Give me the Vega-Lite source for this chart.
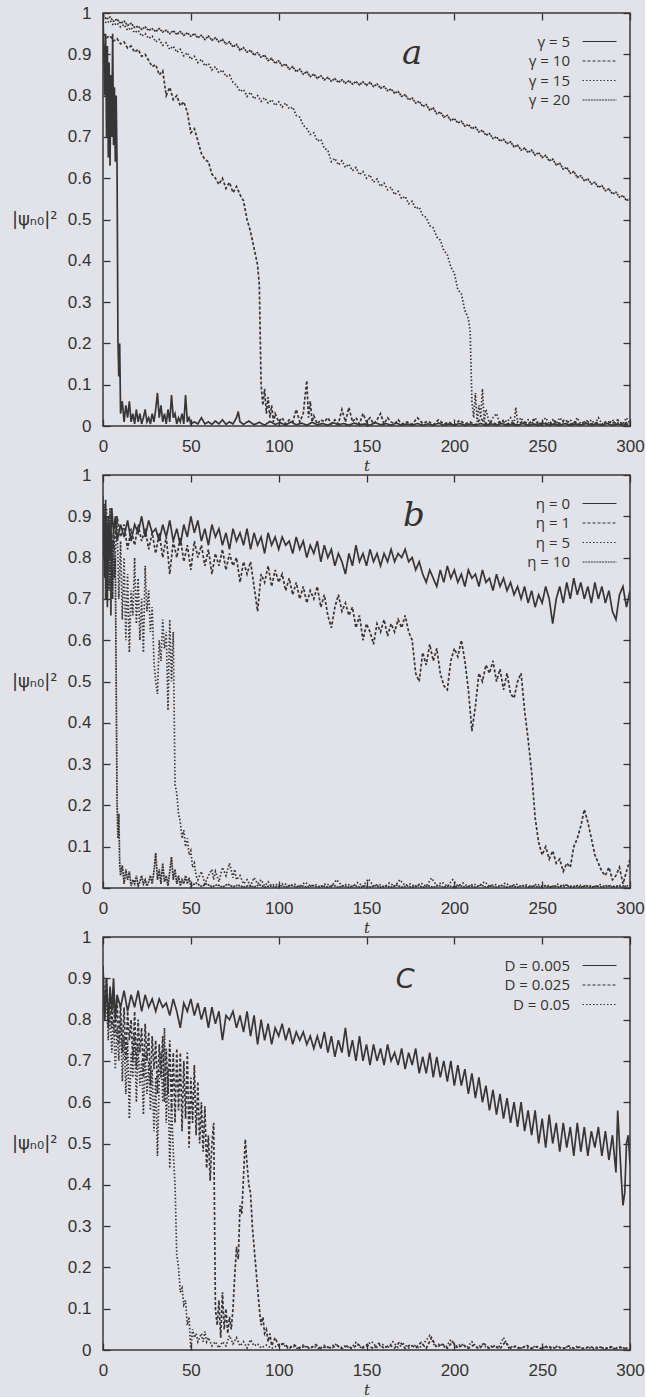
{
"$schema":"https://vega.github.io/schema/vega-lite/v6.json",
"background":"#e2e3e9",
"padding":{"left":10,"top":3,"right":0,"bottom":0},
"spacing":49,
"bounds":"flush",
"resolve":{"scale":{"strokeDash":"independent"},"legend":{"strokeDash":"independent"}},
"config":{"view":{"stroke":"#383838","strokeWidth":1.5},"font":"Liberation Sans"},
"datasets":{
"a":[
{"s":"γ = 20","t":0,"v":0.995},{"s":"γ = 20","t":2,"v":0.985},{"s":"γ = 20","t":4,"v":0.99},{"s":"γ = 20","t":6,"v":0.98},{"s":"γ = 20","t":8,"v":0.985},{"s":"γ = 20","t":10,"v":0.975},{"s":"γ = 20","t":12,"v":0.98},{"s":"γ = 20","t":14,"v":0.97},{"s":"γ = 20","t":16,"v":0.975},{"s":"γ = 20","t":18,"v":0.965},{"s":"γ = 20","t":20,"v":0.968},{"s":"γ = 20","t":22,"v":0.96},{"s":"γ = 20","t":24,"v":0.966},{"s":"γ = 20","t":26,"v":0.958},{"s":"γ = 20","t":28,"v":0.962},{"s":"γ = 20","t":30,"v":0.955},{"s":"γ = 20","t":32,"v":0.962},{"s":"γ = 20","t":34,"v":0.954},{"s":"γ = 20","t":36,"v":0.958},{"s":"γ = 20","t":38,"v":0.95},{"s":"γ = 20","t":40,"v":0.957},{"s":"γ = 20","t":42,"v":0.948},{"s":"γ = 20","t":44,"v":0.955},{"s":"γ = 20","t":46,"v":0.946},{"s":"γ = 20","t":48,"v":0.952},{"s":"γ = 20","t":50,"v":0.944},{"s":"γ = 20","t":52,"v":0.95},{"s":"γ = 20","t":54,"v":0.94},{"s":"γ = 20","t":56,"v":0.946},{"s":"γ = 20","t":58,"v":0.936},{"s":"γ = 20","t":60,"v":0.944},{"s":"γ = 20","t":62,"v":0.934},{"s":"γ = 20","t":64,"v":0.94},{"s":"γ = 20","t":66,"v":0.93},{"s":"γ = 20","t":68,"v":0.936},{"s":"γ = 20","t":70,"v":0.925},{"s":"γ = 20","t":72,"v":0.93},{"s":"γ = 20","t":74,"v":0.918},{"s":"γ = 20","t":76,"v":0.924},{"s":"γ = 20","t":78,"v":0.91},{"s":"γ = 20","t":80,"v":0.916},{"s":"γ = 20","t":82,"v":0.905},{"s":"γ = 20","t":84,"v":0.91},{"s":"γ = 20","t":86,"v":0.898},{"s":"γ = 20","t":88,"v":0.904},{"s":"γ = 20","t":90,"v":0.893},{"s":"γ = 20","t":92,"v":0.898},{"s":"γ = 20","t":94,"v":0.885},{"s":"γ = 20","t":96,"v":0.89},{"s":"γ = 20","t":98,"v":0.878},{"s":"γ = 20","t":100,"v":0.884},{"s":"γ = 20","t":102,"v":0.872},{"s":"γ = 20","t":104,"v":0.876},{"s":"γ = 20","t":106,"v":0.864},{"s":"γ = 20","t":108,"v":0.87},{"s":"γ = 20","t":110,"v":0.858},{"s":"γ = 20","t":112,"v":0.864},{"s":"γ = 20","t":114,"v":0.852},{"s":"γ = 20","t":116,"v":0.858},{"s":"γ = 20","t":118,"v":0.846},{"s":"γ = 20","t":120,"v":0.852},{"s":"γ = 20","t":122,"v":0.842},{"s":"γ = 20","t":124,"v":0.848},{"s":"γ = 20","t":126,"v":0.838},{"s":"γ = 20","t":128,"v":0.844},{"s":"γ = 20","t":130,"v":0.835},{"s":"γ = 20","t":132,"v":0.841},{"s":"γ = 20","t":134,"v":0.832},{"s":"γ = 20","t":136,"v":0.838},{"s":"γ = 20","t":138,"v":0.83},{"s":"γ = 20","t":140,"v":0.836},{"s":"γ = 20","t":142,"v":0.828},{"s":"γ = 20","t":144,"v":0.834},{"s":"γ = 20","t":146,"v":0.826},{"s":"γ = 20","t":148,"v":0.833},{"s":"γ = 20","t":150,"v":0.825},{"s":"γ = 20","t":152,"v":0.832},{"s":"γ = 20","t":154,"v":0.822},{"s":"γ = 20","t":156,"v":0.828},{"s":"γ = 20","t":158,"v":0.818},{"s":"γ = 20","t":160,"v":0.822},{"s":"γ = 20","t":162,"v":0.812},{"s":"γ = 20","t":164,"v":0.816},{"s":"γ = 20","t":166,"v":0.806},{"s":"γ = 20","t":168,"v":0.81},{"s":"γ = 20","t":170,"v":0.798},{"s":"γ = 20","t":172,"v":0.802},{"s":"γ = 20","t":174,"v":0.79},{"s":"γ = 20","t":176,"v":0.794},{"s":"γ = 20","t":178,"v":0.782},{"s":"γ = 20","t":180,"v":0.786},{"s":"γ = 20","t":182,"v":0.774},{"s":"γ = 20","t":184,"v":0.778},{"s":"γ = 20","t":186,"v":0.765},{"s":"γ = 20","t":188,"v":0.77},{"s":"γ = 20","t":190,"v":0.756},{"s":"γ = 20","t":192,"v":0.76},{"s":"γ = 20","t":194,"v":0.748},{"s":"γ = 20","t":196,"v":0.752},{"s":"γ = 20","t":198,"v":0.74},{"s":"γ = 20","t":200,"v":0.744},{"s":"γ = 20","t":202,"v":0.734},{"s":"γ = 20","t":204,"v":0.738},{"s":"γ = 20","t":206,"v":0.726},{"s":"γ = 20","t":208,"v":0.73},{"s":"γ = 20","t":210,"v":0.72},{"s":"γ = 20","t":212,"v":0.724},{"s":"γ = 20","t":214,"v":0.712},{"s":"γ = 20","t":216,"v":0.716},{"s":"γ = 20","t":218,"v":0.704},{"s":"γ = 20","t":220,"v":0.708},{"s":"γ = 20","t":222,"v":0.696},{"s":"γ = 20","t":224,"v":0.7},{"s":"γ = 20","t":226,"v":0.69},{"s":"γ = 20","t":228,"v":0.694},{"s":"γ = 20","t":230,"v":0.684},{"s":"γ = 20","t":232,"v":0.688},{"s":"γ = 20","t":234,"v":0.676},{"s":"γ = 20","t":236,"v":0.68},{"s":"γ = 20","t":238,"v":0.668},{"s":"γ = 20","t":240,"v":0.673},{"s":"γ = 20","t":242,"v":0.662},{"s":"γ = 20","t":244,"v":0.668},{"s":"γ = 20","t":246,"v":0.656},{"s":"γ = 20","t":248,"v":0.662},{"s":"γ = 20","t":250,"v":0.65},{"s":"γ = 20","t":252,"v":0.655},{"s":"γ = 20","t":254,"v":0.642},{"s":"γ = 20","t":256,"v":0.646},{"s":"γ = 20","t":258,"v":0.632},{"s":"γ = 20","t":260,"v":0.636},{"s":"γ = 20","t":262,"v":0.622},{"s":"γ = 20","t":264,"v":0.626},{"s":"γ = 20","t":266,"v":0.612},{"s":"γ = 20","t":268,"v":0.616},{"s":"γ = 20","t":270,"v":0.602},{"s":"γ = 20","t":272,"v":0.606},{"s":"γ = 20","t":274,"v":0.594},{"s":"γ = 20","t":276,"v":0.598},{"s":"γ = 20","t":278,"v":0.586},{"s":"γ = 20","t":280,"v":0.59},{"s":"γ = 20","t":282,"v":0.578},{"s":"γ = 20","t":284,"v":0.582},{"s":"γ = 20","t":286,"v":0.57},{"s":"γ = 20","t":288,"v":0.574},{"s":"γ = 20","t":290,"v":0.562},{"s":"γ = 20","t":292,"v":0.566},{"s":"γ = 20","t":294,"v":0.554},{"s":"γ = 20","t":296,"v":0.558},{"s":"γ = 20","t":298,"v":0.546},{"s":"γ = 20","t":300,"v":0.55},
{"s":"γ = 15","t":0,"v":0.985},{"s":"γ = 15","t":2,"v":0.975},{"s":"γ = 15","t":4,"v":0.982},{"s":"γ = 15","t":6,"v":0.97},{"s":"γ = 15","t":8,"v":0.976},{"s":"γ = 15","t":10,"v":0.966},{"s":"γ = 15","t":12,"v":0.972},{"s":"γ = 15","t":14,"v":0.958},{"s":"γ = 15","t":16,"v":0.965},{"s":"γ = 15","t":18,"v":0.952},{"s":"γ = 15","t":20,"v":0.958},{"s":"γ = 15","t":22,"v":0.944},{"s":"γ = 15","t":24,"v":0.95},{"s":"γ = 15","t":26,"v":0.938},{"s":"γ = 15","t":28,"v":0.944},{"s":"γ = 15","t":30,"v":0.93},{"s":"γ = 15","t":32,"v":0.936},{"s":"γ = 15","t":34,"v":0.922},{"s":"γ = 15","t":36,"v":0.928},{"s":"γ = 15","t":38,"v":0.912},{"s":"γ = 15","t":40,"v":0.92},{"s":"γ = 15","t":42,"v":0.905},{"s":"γ = 15","t":44,"v":0.912},{"s":"γ = 15","t":46,"v":0.896},{"s":"γ = 15","t":48,"v":0.904},{"s":"γ = 15","t":50,"v":0.888},{"s":"γ = 15","t":52,"v":0.895},{"s":"γ = 15","t":54,"v":0.88},{"s":"γ = 15","t":56,"v":0.888},{"s":"γ = 15","t":58,"v":0.872},{"s":"γ = 15","t":60,"v":0.878},{"s":"γ = 15","t":62,"v":0.862},{"s":"γ = 15","t":64,"v":0.87},{"s":"γ = 15","t":66,"v":0.855},{"s":"γ = 15","t":68,"v":0.862},{"s":"γ = 15","t":70,"v":0.846},{"s":"γ = 15","t":72,"v":0.85},{"s":"γ = 15","t":74,"v":0.832},{"s":"γ = 15","t":76,"v":0.825},{"s":"γ = 15","t":78,"v":0.81},{"s":"γ = 15","t":80,"v":0.815},{"s":"γ = 15","t":82,"v":0.798},{"s":"γ = 15","t":84,"v":0.808},{"s":"γ = 15","t":86,"v":0.792},{"s":"γ = 15","t":88,"v":0.8},{"s":"γ = 15","t":90,"v":0.786},{"s":"γ = 15","t":92,"v":0.795},{"s":"γ = 15","t":94,"v":0.782},{"s":"γ = 15","t":96,"v":0.79},{"s":"γ = 15","t":98,"v":0.776},{"s":"γ = 15","t":100,"v":0.785},{"s":"γ = 15","t":102,"v":0.772},{"s":"γ = 15","t":104,"v":0.782},{"s":"γ = 15","t":106,"v":0.768},{"s":"γ = 15","t":108,"v":0.772},{"s":"γ = 15","t":110,"v":0.752},{"s":"γ = 15","t":112,"v":0.748},{"s":"γ = 15","t":114,"v":0.728},{"s":"γ = 15","t":116,"v":0.72},{"s":"γ = 15","t":118,"v":0.706},{"s":"γ = 15","t":120,"v":0.71},{"s":"γ = 15","t":122,"v":0.69},{"s":"γ = 15","t":124,"v":0.694},{"s":"γ = 15","t":126,"v":0.672},{"s":"γ = 15","t":128,"v":0.668},{"s":"γ = 15","t":130,"v":0.64},{"s":"γ = 15","t":132,"v":0.648},{"s":"γ = 15","t":134,"v":0.632},{"s":"γ = 15","t":136,"v":0.642},{"s":"γ = 15","t":138,"v":0.626},{"s":"γ = 15","t":140,"v":0.634},{"s":"γ = 15","t":142,"v":0.618},{"s":"γ = 15","t":144,"v":0.626},{"s":"γ = 15","t":146,"v":0.608},{"s":"γ = 15","t":148,"v":0.616},{"s":"γ = 15","t":150,"v":0.6},{"s":"γ = 15","t":152,"v":0.608},{"s":"γ = 15","t":154,"v":0.59},{"s":"γ = 15","t":156,"v":0.598},{"s":"γ = 15","t":158,"v":0.58},{"s":"γ = 15","t":160,"v":0.588},{"s":"γ = 15","t":162,"v":0.572},{"s":"γ = 15","t":164,"v":0.578},{"s":"γ = 15","t":166,"v":0.56},{"s":"γ = 15","t":168,"v":0.568},{"s":"γ = 15","t":170,"v":0.55},{"s":"γ = 15","t":172,"v":0.556},{"s":"γ = 15","t":174,"v":0.538},{"s":"γ = 15","t":176,"v":0.544},{"s":"γ = 15","t":178,"v":0.526},{"s":"γ = 15","t":180,"v":0.53},{"s":"γ = 15","t":182,"v":0.51},{"s":"γ = 15","t":184,"v":0.505},{"s":"γ = 15","t":186,"v":0.485},{"s":"γ = 15","t":188,"v":0.48},{"s":"γ = 15","t":190,"v":0.458},{"s":"γ = 15","t":192,"v":0.45},{"s":"γ = 15","t":194,"v":0.425},{"s":"γ = 15","t":196,"v":0.415},{"s":"γ = 15","t":198,"v":0.385},{"s":"γ = 15","t":200,"v":0.37},{"s":"γ = 15","t":202,"v":0.33},{"s":"γ = 15","t":204,"v":0.32},{"s":"γ = 15","t":206,"v":0.28},{"s":"γ = 15","t":208,"v":0.26},{"s":"γ = 15","t":209,"v":0.23},{"s":"γ = 15","t":210,"v":0.06},{"s":"γ = 15","t":211,"v":0.02},{"s":"γ = 15","t":212,"v":0.08},{"s":"γ = 15","t":213,"v":0.01},{"s":"γ = 15","t":214,"v":0.05},{"s":"γ = 15","t":215,"v":0.02},{"s":"γ = 15","t":216,"v":0.09},{"s":"γ = 15","t":217,"v":0.01},{"s":"γ = 15","t":218,"v":0.04},{"s":"γ = 15","t":220,"v":0.005},{"s":"γ = 15","t":222,"v":0.02},{"s":"γ = 15","t":224,"v":0.03},{"s":"γ = 15","t":226,"v":0.005},{"s":"γ = 15","t":228,"v":0.015},{"s":"γ = 15","t":230,"v":0.01},{"s":"γ = 15","t":232,"v":0.02},{"s":"γ = 15","t":234,"v":0.005},{"s":"γ = 15","t":235,"v":0.045},{"s":"γ = 15","t":236,"v":0.01},{"s":"γ = 15","t":238,"v":0.02},{"s":"γ = 15","t":240,"v":0.005},{"s":"γ = 15","t":242,"v":0.015},{"s":"γ = 15","t":244,"v":0.005},{"s":"γ = 15","t":246,"v":0.02},{"s":"γ = 15","t":248,"v":0.005},{"s":"γ = 15","t":250,"v":0.01},{"s":"γ = 15","t":252,"v":0.02},{"s":"γ = 15","t":254,"v":0.005},{"s":"γ = 15","t":256,"v":0.015},{"s":"γ = 15","t":258,"v":0.005},{"s":"γ = 15","t":260,"v":0.02},{"s":"γ = 15","t":262,"v":0.01},{"s":"γ = 15","t":264,"v":0.005},{"s":"γ = 15","t":266,"v":0.015},{"s":"γ = 15","t":268,"v":0.005},{"s":"γ = 15","t":270,"v":0.02},{"s":"γ = 15","t":272,"v":0.005},{"s":"γ = 15","t":274,"v":0.01},{"s":"γ = 15","t":276,"v":0.005},{"s":"γ = 15","t":278,"v":0.015},{"s":"γ = 15","t":280,"v":0.005},{"s":"γ = 15","t":282,"v":0.02},{"s":"γ = 15","t":284,"v":0.005},{"s":"γ = 15","t":286,"v":0.01},{"s":"γ = 15","t":288,"v":0.005},{"s":"γ = 15","t":290,"v":0.015},{"s":"γ = 15","t":292,"v":0.005},{"s":"γ = 15","t":294,"v":0.01},{"s":"γ = 15","t":296,"v":0.005},{"s":"γ = 15","t":298,"v":0.02},{"s":"γ = 15","t":300,"v":0.005},
{"s":"γ = 10","t":0,"v":0.95},{"s":"γ = 10","t":2,"v":0.94},{"s":"γ = 10","t":4,"v":0.945},{"s":"γ = 10","t":6,"v":0.932},{"s":"γ = 10","t":8,"v":0.938},{"s":"γ = 10","t":10,"v":0.925},{"s":"γ = 10","t":12,"v":0.93},{"s":"γ = 10","t":14,"v":0.915},{"s":"γ = 10","t":16,"v":0.92},{"s":"γ = 10","t":18,"v":0.905},{"s":"γ = 10","t":20,"v":0.912},{"s":"γ = 10","t":22,"v":0.895},{"s":"γ = 10","t":24,"v":0.9},{"s":"γ = 10","t":26,"v":0.885},{"s":"γ = 10","t":28,"v":0.87},{"s":"γ = 10","t":30,"v":0.875},{"s":"γ = 10","t":32,"v":0.85},{"s":"γ = 10","t":34,"v":0.86},{"s":"γ = 10","t":36,"v":0.8},{"s":"γ = 10","t":38,"v":0.82},{"s":"γ = 10","t":40,"v":0.79},{"s":"γ = 10","t":42,"v":0.8},{"s":"γ = 10","t":44,"v":0.775},{"s":"γ = 10","t":46,"v":0.785},{"s":"γ = 10","t":48,"v":0.76},{"s":"γ = 10","t":50,"v":0.71},{"s":"γ = 10","t":52,"v":0.72},{"s":"γ = 10","t":54,"v":0.69},{"s":"γ = 10","t":56,"v":0.66},{"s":"γ = 10","t":58,"v":0.645},{"s":"γ = 10","t":60,"v":0.64},{"s":"γ = 10","t":62,"v":0.61},{"s":"γ = 10","t":64,"v":0.6},{"s":"γ = 10","t":66,"v":0.585},{"s":"γ = 10","t":68,"v":0.6},{"s":"γ = 10","t":70,"v":0.575},{"s":"γ = 10","t":72,"v":0.59},{"s":"γ = 10","t":74,"v":0.565},{"s":"γ = 10","t":76,"v":0.58},{"s":"γ = 10","t":78,"v":0.56},{"s":"γ = 10","t":80,"v":0.545},{"s":"γ = 10","t":82,"v":0.5},{"s":"γ = 10","t":84,"v":0.47},{"s":"γ = 10","t":86,"v":0.43},{"s":"γ = 10","t":88,"v":0.39},{"s":"γ = 10","t":89,"v":0.34},{"s":"γ = 10","t":90,"v":0.1},{"s":"γ = 10","t":91,"v":0.05},{"s":"γ = 10","t":92,"v":0.09},{"s":"γ = 10","t":93,"v":0.03},{"s":"γ = 10","t":94,"v":0.07},{"s":"γ = 10","t":95,"v":0.02},{"s":"γ = 10","t":96,"v":0.05},{"s":"γ = 10","t":97,"v":0.01},{"s":"γ = 10","t":98,"v":0.03},{"s":"γ = 10","t":100,"v":0.01},{"s":"γ = 10","t":102,"v":0.02},{"s":"γ = 10","t":104,"v":0.005},{"s":"γ = 10","t":106,"v":0.015},{"s":"γ = 10","t":108,"v":0.01},{"s":"γ = 10","t":110,"v":0.04},{"s":"γ = 10","t":112,"v":0.01},{"s":"γ = 10","t":114,"v":0.03},{"s":"γ = 10","t":116,"v":0.11},{"s":"γ = 10","t":117,"v":0.02},{"s":"γ = 10","t":118,"v":0.06},{"s":"γ = 10","t":119,"v":0.01},{"s":"γ = 10","t":120,"v":0.025},{"s":"γ = 10","t":122,"v":0.005},{"s":"γ = 10","t":124,"v":0.015},{"s":"γ = 10","t":126,"v":0.01},{"s":"γ = 10","t":128,"v":0.02},{"s":"γ = 10","t":130,"v":0.005},{"s":"γ = 10","t":132,"v":0.015},{"s":"γ = 10","t":134,"v":0.005},{"s":"γ = 10","t":136,"v":0.04},{"s":"γ = 10","t":138,"v":0.01},{"s":"γ = 10","t":140,"v":0.045},{"s":"γ = 10","t":142,"v":0.01},{"s":"γ = 10","t":144,"v":0.02},{"s":"γ = 10","t":146,"v":0.005},{"s":"γ = 10","t":148,"v":0.03},{"s":"γ = 10","t":150,"v":0.01},{"s":"γ = 10","t":152,"v":0.02},{"s":"γ = 10","t":154,"v":0.005},{"s":"γ = 10","t":156,"v":0.015},{"s":"γ = 10","t":158,"v":0.03},{"s":"γ = 10","t":160,"v":0.005},{"s":"γ = 10","t":162,"v":0.02},{"s":"γ = 10","t":164,"v":0.01},{"s":"γ = 10","t":166,"v":0.005},{"s":"γ = 10","t":168,"v":0.015},{"s":"γ = 10","t":170,"v":0.005},{"s":"γ = 10","t":173,"v":0.01},{"s":"γ = 10","t":176,"v":0.004},{"s":"γ = 10","t":179,"v":0.02},{"s":"γ = 10","t":182,"v":0.006},{"s":"γ = 10","t":185,"v":0.012},{"s":"γ = 10","t":188,"v":0.003},{"s":"γ = 10","t":191,"v":0.015},{"s":"γ = 10","t":194,"v":0.005},{"s":"γ = 10","t":197,"v":0.009},{"s":"γ = 10","t":200,"v":0.002},{"s":"γ = 10","t":203,"v":0.014},{"s":"γ = 10","t":206,"v":0.005},{"s":"γ = 10","t":209,"v":0.01},{"s":"γ = 10","t":212,"v":0.003},{"s":"γ = 10","t":215,"v":0.018},{"s":"γ = 10","t":218,"v":0.006},{"s":"γ = 10","t":221,"v":0.01},{"s":"γ = 10","t":224,"v":0.004},{"s":"γ = 10","t":227,"v":0.013},{"s":"γ = 10","t":230,"v":0.005},{"s":"γ = 10","t":233,"v":0.008},{"s":"γ = 10","t":236,"v":0.002},{"s":"γ = 10","t":239,"v":0.012},{"s":"γ = 10","t":242,"v":0.005},{"s":"γ = 10","t":245,"v":0.015},{"s":"γ = 10","t":248,"v":0.004},{"s":"γ = 10","t":251,"v":0.009},{"s":"γ = 10","t":254,"v":0.003},{"s":"γ = 10","t":257,"v":0.012},{"s":"γ = 10","t":260,"v":0.006},{"s":"γ = 10","t":263,"v":0.016},{"s":"γ = 10","t":266,"v":0.004},{"s":"γ = 10","t":269,"v":0.01},{"s":"γ = 10","t":272,"v":0.003},{"s":"γ = 10","t":275,"v":0.014},{"s":"γ = 10","t":278,"v":0.005},{"s":"γ = 10","t":281,"v":0.008},{"s":"γ = 10","t":284,"v":0.002},{"s":"γ = 10","t":287,"v":0.012},{"s":"γ = 10","t":290,"v":0.006},{"s":"γ = 10","t":293,"v":0.015},{"s":"γ = 10","t":296,"v":0.004},{"s":"γ = 10","t":299,"v":0.01},
{"s":"γ = 5","t":0,"v":1},{"s":"γ = 5","t":0.5,"v":0.9},{"s":"γ = 5","t":1,"v":0.8},{"s":"γ = 5","t":1.5,"v":0.95},{"s":"γ = 5","t":2,"v":0.7},{"s":"γ = 5","t":2.5,"v":0.92},{"s":"γ = 5","t":3,"v":0.65},{"s":"γ = 5","t":3.5,"v":0.88},{"s":"γ = 5","t":4,"v":0.63},{"s":"γ = 5","t":4.5,"v":0.85},{"s":"γ = 5","t":5,"v":0.7},{"s":"γ = 5","t":5.5,"v":0.95},{"s":"γ = 5","t":6,"v":0.68},{"s":"γ = 5","t":6.5,"v":0.82},{"s":"γ = 5","t":7,"v":0.64},{"s":"γ = 5","t":7.5,"v":0.8},{"s":"γ = 5","t":8,"v":0.63},{"s":"γ = 5","t":8.5,"v":0.21},{"s":"γ = 5","t":9,"v":0.12},{"s":"γ = 5","t":9.5,"v":0.2},{"s":"γ = 5","t":10,"v":0.03},{"s":"γ = 5","t":11,"v":0.06},{"s":"γ = 5","t":12,"v":0.01},{"s":"γ = 5","t":13,"v":0.05},{"s":"γ = 5","t":14,"v":0.02},{"s":"γ = 5","t":15,"v":0.06},{"s":"γ = 5","t":16,"v":0.01},{"s":"γ = 5","t":17,"v":0.03},{"s":"γ = 5","t":18,"v":0.005},{"s":"γ = 5","t":19,"v":0.04},{"s":"γ = 5","t":20,"v":0.01},{"s":"γ = 5","t":21,"v":0.03},{"s":"γ = 5","t":22,"v":0.005},{"s":"γ = 5","t":23,"v":0.02},{"s":"γ = 5","t":24,"v":0.04},{"s":"γ = 5","t":25,"v":0.01},{"s":"γ = 5","t":26,"v":0.02},{"s":"γ = 5","t":27,"v":0.005},{"s":"γ = 5","t":28,"v":0.03},{"s":"γ = 5","t":29,"v":0.01},{"s":"γ = 5","t":30,"v":0.04},{"s":"γ = 5","t":31,"v":0.08},{"s":"γ = 5","t":32,"v":0.02},{"s":"γ = 5","t":33,"v":0.05},{"s":"γ = 5","t":34,"v":0.01},{"s":"γ = 5","t":35,"v":0.03},{"s":"γ = 5","t":36,"v":0.005},{"s":"γ = 5","t":37,"v":0.04},{"s":"γ = 5","t":38,"v":0.01},{"s":"γ = 5","t":39,"v":0.075},{"s":"γ = 5","t":40,"v":0.02},{"s":"γ = 5","t":41,"v":0.03},{"s":"γ = 5","t":42,"v":0.005},{"s":"γ = 5","t":43,"v":0.02},{"s":"γ = 5","t":44,"v":0.01},{"s":"γ = 5","t":45,"v":0.03},{"s":"γ = 5","t":46,"v":0.005},{"s":"γ = 5","t":47,"v":0.075},{"s":"γ = 5","t":48,"v":0.01},{"s":"γ = 5","t":49,"v":0.02},{"s":"γ = 5","t":50,"v":0.005},{"s":"γ = 5","t":52,"v":0.01},{"s":"γ = 5","t":54,"v":0.005},{"s":"γ = 5","t":56,"v":0.02},{"s":"γ = 5","t":58,"v":0.005},{"s":"γ = 5","t":60,"v":0.01},{"s":"γ = 5","t":62,"v":0.004},{"s":"γ = 5","t":64,"v":0.012},{"s":"γ = 5","t":66,"v":0.005},{"s":"γ = 5","t":68,"v":0.015},{"s":"γ = 5","t":70,"v":0.004},{"s":"γ = 5","t":72,"v":0.01},{"s":"γ = 5","t":74,"v":0.005},{"s":"γ = 5","t":76,"v":0.02},{"s":"γ = 5","t":77,"v":0.035},{"s":"γ = 5","t":78,"v":0.01},{"s":"γ = 5","t":80,"v":0.004},{"s":"γ = 5","t":83,"v":0.012},{"s":"γ = 5","t":86,"v":0.003},{"s":"γ = 5","t":89,"v":0.009},{"s":"γ = 5","t":92,"v":0.002},{"s":"γ = 5","t":95,"v":0.011},{"s":"γ = 5","t":98,"v":0.004},{"s":"γ = 5","t":101,"v":0.008},{"s":"γ = 5","t":104,"v":0.002},{"s":"γ = 5","t":107,"v":0.01},{"s":"γ = 5","t":110,"v":0.003},{"s":"γ = 5","t":113,"v":0.007},{"s":"γ = 5","t":116,"v":0.002},{"s":"γ = 5","t":119,"v":0.009},{"s":"γ = 5","t":122,"v":0.003},{"s":"γ = 5","t":125,"v":0.006},{"s":"γ = 5","t":128,"v":0.002},{"s":"γ = 5","t":131,"v":0.008},{"s":"γ = 5","t":134,"v":0.003},{"s":"γ = 5","t":137,"v":0.006},{"s":"γ = 5","t":140,"v":0.002},{"s":"γ = 5","t":143,"v":0.007},{"s":"γ = 5","t":146,"v":0.003},{"s":"γ = 5","t":149,"v":0.005},{"s":"γ = 5","t":152,"v":0.002},{"s":"γ = 5","t":155,"v":0.008},{"s":"γ = 5","t":158,"v":0.003},{"s":"γ = 5","t":161,"v":0.006},{"s":"γ = 5","t":164,"v":0.002},{"s":"γ = 5","t":167,"v":0.007},{"s":"γ = 5","t":170,"v":0.002},{"s":"γ = 5","t":173,"v":0.005},{"s":"γ = 5","t":176,"v":0.002},{"s":"γ = 5","t":179,"v":0.006},{"s":"γ = 5","t":182,"v":0.002},{"s":"γ = 5","t":185,"v":0.005},{"s":"γ = 5","t":188,"v":0.002},{"s":"γ = 5","t":191,"v":0.007},{"s":"γ = 5","t":194,"v":0.002},{"s":"γ = 5","t":197,"v":0.005},{"s":"γ = 5","t":200,"v":0.002},{"s":"γ = 5","t":203,"v":0.006},{"s":"γ = 5","t":206,"v":0.002},{"s":"γ = 5","t":209,"v":0.005},{"s":"γ = 5","t":212,"v":0.002},{"s":"γ = 5","t":215,"v":0.006},{"s":"γ = 5","t":218,"v":0.002},{"s":"γ = 5","t":221,"v":0.005},{"s":"γ = 5","t":224,"v":0.002},{"s":"γ = 5","t":227,"v":0.006},{"s":"γ = 5","t":230,"v":0.002},{"s":"γ = 5","t":233,"v":0.005},{"s":"γ = 5","t":236,"v":0.002},{"s":"γ = 5","t":239,"v":0.006},{"s":"γ = 5","t":242,"v":0.002},{"s":"γ = 5","t":245,"v":0.005},{"s":"γ = 5","t":248,"v":0.002},{"s":"γ = 5","t":251,"v":0.006},{"s":"γ = 5","t":254,"v":0.002},{"s":"γ = 5","t":257,"v":0.005},{"s":"γ = 5","t":260,"v":0.002},{"s":"γ = 5","t":263,"v":0.006},{"s":"γ = 5","t":266,"v":0.002},{"s":"γ = 5","t":269,"v":0.005},{"s":"γ = 5","t":272,"v":0.002},{"s":"γ = 5","t":275,"v":0.006},{"s":"γ = 5","t":278,"v":0.002},{"s":"γ = 5","t":281,"v":0.005},{"s":"γ = 5","t":284,"v":0.002},{"s":"γ = 5","t":287,"v":0.006},{"s":"γ = 5","t":290,"v":0.002},{"s":"γ = 5","t":293,"v":0.005},{"s":"γ = 5","t":296,"v":0.002},{"s":"γ = 5","t":299,"v":0.005}
],
"b":[
{"s":"η = 0","t":0,"v":0.93},{"s":"η = 0","t":1,"v":0.75},{"s":"η = 0","t":1.5,"v":0.94},{"s":"η = 0","t":2,"v":0.7},{"s":"η = 0","t":3,"v":0.9},{"s":"η = 0","t":4,"v":0.8},{"s":"η = 0","t":5,"v":0.92},{"s":"η = 0","t":6,"v":0.86},{"s":"η = 0","t":7,"v":0.9},{"s":"η = 0","t":8,"v":0.84},{"s":"η = 0","t":10,"v":0.88},{"s":"η = 0","t":12,"v":0.85},{"s":"η = 0","t":14,"v":0.89},{"s":"η = 0","t":16,"v":0.84},{"s":"η = 0","t":18,"v":0.88},{"s":"η = 0","t":20,"v":0.86},{"s":"η = 0","t":22,"v":0.9},{"s":"η = 0","t":24,"v":0.85},{"s":"η = 0","t":26,"v":0.89},{"s":"η = 0","t":28,"v":0.86},{"s":"η = 0","t":30,"v":0.87},{"s":"η = 0","t":32,"v":0.84},{"s":"η = 0","t":34,"v":0.88},{"s":"η = 0","t":36,"v":0.85},{"s":"η = 0","t":38,"v":0.89},{"s":"η = 0","t":40,"v":0.84},{"s":"η = 0","t":42,"v":0.87},{"s":"η = 0","t":44,"v":0.83},{"s":"η = 0","t":46,"v":0.88},{"s":"η = 0","t":48,"v":0.85},{"s":"η = 0","t":50,"v":0.9},{"s":"η = 0","t":52,"v":0.86},{"s":"η = 0","t":54,"v":0.89},{"s":"η = 0","t":56,"v":0.84},{"s":"η = 0","t":58,"v":0.87},{"s":"η = 0","t":60,"v":0.83},{"s":"η = 0","t":62,"v":0.88},{"s":"η = 0","t":64,"v":0.85},{"s":"η = 0","t":66,"v":0.87},{"s":"η = 0","t":68,"v":0.83},{"s":"η = 0","t":70,"v":0.86},{"s":"η = 0","t":72,"v":0.82},{"s":"η = 0","t":74,"v":0.87},{"s":"η = 0","t":76,"v":0.84},{"s":"η = 0","t":78,"v":0.86},{"s":"η = 0","t":80,"v":0.83},{"s":"η = 0","t":82,"v":0.87},{"s":"η = 0","t":84,"v":0.82},{"s":"η = 0","t":86,"v":0.86},{"s":"η = 0","t":88,"v":0.83},{"s":"η = 0","t":90,"v":0.85},{"s":"η = 0","t":92,"v":0.81},{"s":"η = 0","t":94,"v":0.86},{"s":"η = 0","t":96,"v":0.83},{"s":"η = 0","t":98,"v":0.85},{"s":"η = 0","t":100,"v":0.82},{"s":"η = 0","t":102,"v":0.85},{"s":"η = 0","t":104,"v":0.83},{"s":"η = 0","t":106,"v":0.84},{"s":"η = 0","t":108,"v":0.81},{"s":"η = 0","t":110,"v":0.85},{"s":"η = 0","t":112,"v":0.82},{"s":"η = 0","t":114,"v":0.84},{"s":"η = 0","t":116,"v":0.8},{"s":"η = 0","t":118,"v":0.83},{"s":"η = 0","t":120,"v":0.81},{"s":"η = 0","t":122,"v":0.84},{"s":"η = 0","t":124,"v":0.79},{"s":"η = 0","t":126,"v":0.83},{"s":"η = 0","t":128,"v":0.8},{"s":"η = 0","t":130,"v":0.82},{"s":"η = 0","t":132,"v":0.78},{"s":"η = 0","t":134,"v":0.81},{"s":"η = 0","t":136,"v":0.79},{"s":"η = 0","t":138,"v":0.76},{"s":"η = 0","t":140,"v":0.81},{"s":"η = 0","t":142,"v":0.78},{"s":"η = 0","t":144,"v":0.83},{"s":"η = 0","t":146,"v":0.79},{"s":"η = 0","t":148,"v":0.81},{"s":"η = 0","t":150,"v":0.78},{"s":"η = 0","t":152,"v":0.82},{"s":"η = 0","t":154,"v":0.79},{"s":"η = 0","t":156,"v":0.81},{"s":"η = 0","t":158,"v":0.78},{"s":"η = 0","t":160,"v":0.81},{"s":"η = 0","t":162,"v":0.79},{"s":"η = 0","t":164,"v":0.82},{"s":"η = 0","t":166,"v":0.79},{"s":"η = 0","t":168,"v":0.81},{"s":"η = 0","t":170,"v":0.8},{"s":"η = 0","t":172,"v":0.82},{"s":"η = 0","t":174,"v":0.79},{"s":"η = 0","t":176,"v":0.8},{"s":"η = 0","t":178,"v":0.77},{"s":"η = 0","t":180,"v":0.79},{"s":"η = 0","t":182,"v":0.76},{"s":"η = 0","t":184,"v":0.74},{"s":"η = 0","t":186,"v":0.77},{"s":"η = 0","t":188,"v":0.75},{"s":"η = 0","t":190,"v":0.73},{"s":"η = 0","t":192,"v":0.77},{"s":"η = 0","t":194,"v":0.74},{"s":"η = 0","t":196,"v":0.78},{"s":"η = 0","t":198,"v":0.75},{"s":"η = 0","t":200,"v":0.77},{"s":"η = 0","t":202,"v":0.74},{"s":"η = 0","t":204,"v":0.76},{"s":"η = 0","t":206,"v":0.73},{"s":"η = 0","t":208,"v":0.77},{"s":"η = 0","t":210,"v":0.75},{"s":"η = 0","t":212,"v":0.76},{"s":"η = 0","t":214,"v":0.73},{"s":"η = 0","t":216,"v":0.77},{"s":"η = 0","t":218,"v":0.74},{"s":"η = 0","t":220,"v":0.75},{"s":"η = 0","t":222,"v":0.72},{"s":"η = 0","t":224,"v":0.76},{"s":"η = 0","t":226,"v":0.73},{"s":"η = 0","t":228,"v":0.75},{"s":"η = 0","t":230,"v":0.72},{"s":"η = 0","t":232,"v":0.74},{"s":"η = 0","t":234,"v":0.71},{"s":"η = 0","t":236,"v":0.73},{"s":"η = 0","t":238,"v":0.7},{"s":"η = 0","t":240,"v":0.73},{"s":"η = 0","t":242,"v":0.69},{"s":"η = 0","t":244,"v":0.72},{"s":"η = 0","t":246,"v":0.68},{"s":"η = 0","t":248,"v":0.71},{"s":"η = 0","t":250,"v":0.69},{"s":"η = 0","t":252,"v":0.73},{"s":"η = 0","t":254,"v":0.7},{"s":"η = 0","t":256,"v":0.64},{"s":"η = 0","t":258,"v":0.7},{"s":"η = 0","t":260,"v":0.73},{"s":"η = 0","t":262,"v":0.69},{"s":"η = 0","t":264,"v":0.74},{"s":"η = 0","t":266,"v":0.7},{"s":"η = 0","t":268,"v":0.75},{"s":"η = 0","t":270,"v":0.71},{"s":"η = 0","t":272,"v":0.74},{"s":"η = 0","t":274,"v":0.7},{"s":"η = 0","t":276,"v":0.73},{"s":"η = 0","t":278,"v":0.69},{"s":"η = 0","t":280,"v":0.74},{"s":"η = 0","t":282,"v":0.7},{"s":"η = 0","t":284,"v":0.73},{"s":"η = 0","t":286,"v":0.69},{"s":"η = 0","t":288,"v":0.72},{"s":"η = 0","t":290,"v":0.67},{"s":"η = 0","t":292,"v":0.65},{"s":"η = 0","t":294,"v":0.71},{"s":"η = 0","t":296,"v":0.73},{"s":"η = 0","t":298,"v":0.68},{"s":"η = 0","t":300,"v":0.72},
{"s":"η = 1","t":0,"v":0.92},{"s":"η = 1","t":2,"v":0.78},{"s":"η = 1","t":4,"v":0.88},{"s":"η = 1","t":6,"v":0.82},{"s":"η = 1","t":8,"v":0.9},{"s":"η = 1","t":10,"v":0.85},{"s":"η = 1","t":12,"v":0.88},{"s":"η = 1","t":14,"v":0.82},{"s":"η = 1","t":16,"v":0.87},{"s":"η = 1","t":18,"v":0.83},{"s":"η = 1","t":20,"v":0.88},{"s":"η = 1","t":22,"v":0.84},{"s":"η = 1","t":24,"v":0.87},{"s":"η = 1","t":26,"v":0.82},{"s":"η = 1","t":28,"v":0.86},{"s":"η = 1","t":30,"v":0.81},{"s":"η = 1","t":32,"v":0.86},{"s":"η = 1","t":34,"v":0.8},{"s":"η = 1","t":36,"v":0.85},{"s":"η = 1","t":38,"v":0.76},{"s":"η = 1","t":40,"v":0.84},{"s":"η = 1","t":42,"v":0.8},{"s":"η = 1","t":44,"v":0.85},{"s":"η = 1","t":46,"v":0.79},{"s":"η = 1","t":48,"v":0.83},{"s":"η = 1","t":50,"v":0.77},{"s":"η = 1","t":52,"v":0.84},{"s":"η = 1","t":54,"v":0.8},{"s":"η = 1","t":56,"v":0.83},{"s":"η = 1","t":58,"v":0.78},{"s":"η = 1","t":60,"v":0.82},{"s":"η = 1","t":62,"v":0.76},{"s":"η = 1","t":64,"v":0.81},{"s":"η = 1","t":66,"v":0.78},{"s":"η = 1","t":68,"v":0.82},{"s":"η = 1","t":70,"v":0.77},{"s":"η = 1","t":72,"v":0.81},{"s":"η = 1","t":74,"v":0.78},{"s":"η = 1","t":76,"v":0.8},{"s":"η = 1","t":78,"v":0.74},{"s":"η = 1","t":80,"v":0.79},{"s":"η = 1","t":82,"v":0.76},{"s":"η = 1","t":84,"v":0.79},{"s":"η = 1","t":86,"v":0.73},{"s":"η = 1","t":88,"v":0.67},{"s":"η = 1","t":90,"v":0.76},{"s":"η = 1","t":92,"v":0.74},{"s":"η = 1","t":94,"v":0.78},{"s":"η = 1","t":96,"v":0.73},{"s":"η = 1","t":98,"v":0.77},{"s":"η = 1","t":100,"v":0.74},{"s":"η = 1","t":102,"v":0.76},{"s":"η = 1","t":104,"v":0.72},{"s":"η = 1","t":106,"v":0.75},{"s":"η = 1","t":108,"v":0.71},{"s":"η = 1","t":110,"v":0.74},{"s":"η = 1","t":112,"v":0.7},{"s":"η = 1","t":114,"v":0.73},{"s":"η = 1","t":116,"v":0.69},{"s":"η = 1","t":118,"v":0.72},{"s":"η = 1","t":120,"v":0.7},{"s":"η = 1","t":122,"v":0.73},{"s":"η = 1","t":124,"v":0.68},{"s":"η = 1","t":126,"v":0.71},{"s":"η = 1","t":128,"v":0.66},{"s":"η = 1","t":130,"v":0.63},{"s":"η = 1","t":132,"v":0.68},{"s":"η = 1","t":134,"v":0.71},{"s":"η = 1","t":136,"v":0.67},{"s":"η = 1","t":138,"v":0.69},{"s":"η = 1","t":140,"v":0.66},{"s":"η = 1","t":142,"v":0.68},{"s":"η = 1","t":144,"v":0.63},{"s":"η = 1","t":146,"v":0.66},{"s":"η = 1","t":148,"v":0.6},{"s":"η = 1","t":150,"v":0.64},{"s":"η = 1","t":152,"v":0.62},{"s":"η = 1","t":154,"v":0.59},{"s":"η = 1","t":156,"v":0.64},{"s":"η = 1","t":158,"v":0.62},{"s":"η = 1","t":160,"v":0.65},{"s":"η = 1","t":162,"v":0.61},{"s":"η = 1","t":164,"v":0.64},{"s":"η = 1","t":166,"v":0.62},{"s":"η = 1","t":168,"v":0.65},{"s":"η = 1","t":170,"v":0.63},{"s":"η = 1","t":172,"v":0.66},{"s":"η = 1","t":174,"v":0.62},{"s":"η = 1","t":176,"v":0.6},{"s":"η = 1","t":178,"v":0.52},{"s":"η = 1","t":180,"v":0.5},{"s":"η = 1","t":182,"v":0.57},{"s":"η = 1","t":184,"v":0.54},{"s":"η = 1","t":186,"v":0.59},{"s":"η = 1","t":188,"v":0.55},{"s":"η = 1","t":190,"v":0.58},{"s":"η = 1","t":192,"v":0.52},{"s":"η = 1","t":194,"v":0.49},{"s":"η = 1","t":196,"v":0.48},{"s":"η = 1","t":198,"v":0.55},{"s":"η = 1","t":200,"v":0.58},{"s":"η = 1","t":202,"v":0.56},{"s":"η = 1","t":204,"v":0.6},{"s":"η = 1","t":206,"v":0.55},{"s":"η = 1","t":208,"v":0.48},{"s":"η = 1","t":210,"v":0.38},{"s":"η = 1","t":212,"v":0.44},{"s":"η = 1","t":214,"v":0.52},{"s":"η = 1","t":216,"v":0.5},{"s":"η = 1","t":218,"v":0.54},{"s":"η = 1","t":220,"v":0.52},{"s":"η = 1","t":222,"v":0.55},{"s":"η = 1","t":224,"v":0.5},{"s":"η = 1","t":226,"v":0.53},{"s":"η = 1","t":228,"v":0.48},{"s":"η = 1","t":230,"v":0.52},{"s":"η = 1","t":232,"v":0.47},{"s":"η = 1","t":234,"v":0.46},{"s":"η = 1","t":236,"v":0.5},{"s":"η = 1","t":238,"v":0.52},{"s":"η = 1","t":240,"v":0.43},{"s":"η = 1","t":242,"v":0.36},{"s":"η = 1","t":244,"v":0.28},{"s":"η = 1","t":246,"v":0.17},{"s":"η = 1","t":248,"v":0.11},{"s":"η = 1","t":250,"v":0.08},{"s":"η = 1","t":252,"v":0.1},{"s":"η = 1","t":254,"v":0.07},{"s":"η = 1","t":256,"v":0.09},{"s":"η = 1","t":258,"v":0.06},{"s":"η = 1","t":260,"v":0.07},{"s":"η = 1","t":262,"v":0.04},{"s":"η = 1","t":264,"v":0.06},{"s":"η = 1","t":266,"v":0.05},{"s":"η = 1","t":268,"v":0.1},{"s":"η = 1","t":270,"v":0.12},{"s":"η = 1","t":272,"v":0.15},{"s":"η = 1","t":274,"v":0.19},{"s":"η = 1","t":276,"v":0.16},{"s":"η = 1","t":278,"v":0.12},{"s":"η = 1","t":280,"v":0.08},{"s":"η = 1","t":282,"v":0.06},{"s":"η = 1","t":284,"v":0.04},{"s":"η = 1","t":286,"v":0.03},{"s":"η = 1","t":288,"v":0.05},{"s":"η = 1","t":290,"v":0.02},{"s":"η = 1","t":292,"v":0.03},{"s":"η = 1","t":294,"v":0.05},{"s":"η = 1","t":296,"v":0.01},{"s":"η = 1","t":298,"v":0.04},{"s":"η = 1","t":300,"v":0.07},
{"s":"η = 5","t":0,"v":0.93},{"s":"η = 5","t":1,"v":0.85},{"s":"η = 5","t":2,"v":0.92},{"s":"η = 5","t":3,"v":0.78},{"s":"η = 5","t":4,"v":0.88},{"s":"η = 5","t":5,"v":0.72},{"s":"η = 5","t":6,"v":0.86},{"s":"η = 5","t":7,"v":0.8},{"s":"η = 5","t":8,"v":0.9},{"s":"η = 5","t":9,"v":0.7},{"s":"η = 5","t":10,"v":0.84},{"s":"η = 5","t":11,"v":0.65},{"s":"η = 5","t":12,"v":0.8},{"s":"η = 5","t":13,"v":0.6},{"s":"η = 5","t":14,"v":0.76},{"s":"η = 5","t":15,"v":0.57},{"s":"η = 5","t":16,"v":0.72},{"s":"η = 5","t":17,"v":0.66},{"s":"η = 5","t":18,"v":0.8},{"s":"η = 5","t":19,"v":0.64},{"s":"η = 5","t":20,"v":0.75},{"s":"η = 5","t":21,"v":0.6},{"s":"η = 5","t":22,"v":0.7},{"s":"η = 5","t":23,"v":0.57},{"s":"η = 5","t":24,"v":0.78},{"s":"η = 5","t":25,"v":0.67},{"s":"η = 5","t":26,"v":0.72},{"s":"η = 5","t":27,"v":0.62},{"s":"η = 5","t":28,"v":0.68},{"s":"η = 5","t":29,"v":0.55},{"s":"η = 5","t":30,"v":0.5},{"s":"η = 5","t":31,"v":0.47},{"s":"η = 5","t":32,"v":0.6},{"s":"η = 5","t":33,"v":0.55},{"s":"η = 5","t":34,"v":0.65},{"s":"η = 5","t":35,"v":0.58},{"s":"η = 5","t":36,"v":0.62},{"s":"η = 5","t":37,"v":0.43},{"s":"η = 5","t":38,"v":0.65},{"s":"η = 5","t":39,"v":0.5},{"s":"η = 5","t":40,"v":0.62},{"s":"η = 5","t":41,"v":0.25},{"s":"η = 5","t":42,"v":0.23},{"s":"η = 5","t":43,"v":0.18},{"s":"η = 5","t":44,"v":0.16},{"s":"η = 5","t":45,"v":0.12},{"s":"η = 5","t":46,"v":0.14},{"s":"η = 5","t":47,"v":0.1},{"s":"η = 5","t":48,"v":0.12},{"s":"η = 5","t":49,"v":0.08},{"s":"η = 5","t":50,"v":0.09},{"s":"η = 5","t":51,"v":0.05},{"s":"η = 5","t":52,"v":0.06},{"s":"η = 5","t":53,"v":0.03},{"s":"η = 5","t":54,"v":0.02},{"s":"η = 5","t":56,"v":0.04},{"s":"η = 5","t":58,"v":0.01},{"s":"η = 5","t":60,"v":0.03},{"s":"η = 5","t":62,"v":0.045},{"s":"η = 5","t":63,"v":0.02},{"s":"η = 5","t":64,"v":0.04},{"s":"η = 5","t":66,"v":0.015},{"s":"η = 5","t":68,"v":0.05},{"s":"η = 5","t":70,"v":0.03},{"s":"η = 5","t":72,"v":0.06},{"s":"η = 5","t":74,"v":0.025},{"s":"η = 5","t":75,"v":0.045},{"s":"η = 5","t":76,"v":0.02},{"s":"η = 5","t":78,"v":0.03},{"s":"η = 5","t":80,"v":0.01},{"s":"η = 5","t":82,"v":0.02},{"s":"η = 5","t":84,"v":0.005},{"s":"η = 5","t":86,"v":0.025},{"s":"η = 5","t":88,"v":0.01},{"s":"η = 5","t":90,"v":0.02},{"s":"η = 5","t":92,"v":0.005},{"s":"η = 5","t":94,"v":0.015},{"s":"η = 5","t":96,"v":0.005},{"s":"η = 5","t":98,"v":0.01},{"s":"η = 5","t":100,"v":0.005},{"s":"η = 5","t":103,"v":0.012},{"s":"η = 5","t":106,"v":0.004},{"s":"η = 5","t":109,"v":0.009},{"s":"η = 5","t":112,"v":0.003},{"s":"η = 5","t":115,"v":0.014},{"s":"η = 5","t":118,"v":0.005},{"s":"η = 5","t":121,"v":0.008},{"s":"η = 5","t":124,"v":0.002},{"s":"η = 5","t":127,"v":0.011},{"s":"η = 5","t":130,"v":0.004},{"s":"η = 5","t":133,"v":0.02},{"s":"η = 5","t":136,"v":0.005},{"s":"η = 5","t":139,"v":0.01},{"s":"η = 5","t":142,"v":0.003},{"s":"η = 5","t":145,"v":0.013},{"s":"η = 5","t":148,"v":0.004},{"s":"η = 5","t":151,"v":0.022},{"s":"η = 5","t":154,"v":0.005},{"s":"η = 5","t":157,"v":0.009},{"s":"η = 5","t":160,"v":0.003},{"s":"η = 5","t":163,"v":0.012},{"s":"η = 5","t":166,"v":0.004},{"s":"η = 5","t":169,"v":0.02},{"s":"η = 5","t":172,"v":0.006},{"s":"η = 5","t":175,"v":0.01},{"s":"η = 5","t":178,"v":0.003},{"s":"η = 5","t":181,"v":0.012},{"s":"η = 5","t":184,"v":0.004},{"s":"η = 5","t":187,"v":0.024},{"s":"η = 5","t":190,"v":0.006},{"s":"η = 5","t":193,"v":0.014},{"s":"η = 5","t":196,"v":0.004},{"s":"η = 5","t":199,"v":0.02},{"s":"η = 5","t":202,"v":0.005},{"s":"η = 5","t":205,"v":0.012},{"s":"η = 5","t":208,"v":0.003},{"s":"η = 5","t":211,"v":0.01},{"s":"η = 5","t":214,"v":0.004},{"s":"η = 5","t":217,"v":0.015},{"s":"η = 5","t":220,"v":0.005},{"s":"η = 5","t":223,"v":0.009},{"s":"η = 5","t":226,"v":0.003},{"s":"η = 5","t":229,"v":0.012},{"s":"η = 5","t":232,"v":0.004},{"s":"η = 5","t":235,"v":0.01},{"s":"η = 5","t":238,"v":0.003},{"s":"η = 5","t":241,"v":0.008},{"s":"η = 5","t":244,"v":0.002},{"s":"η = 5","t":247,"v":0.01},{"s":"η = 5","t":250,"v":0.003},{"s":"η = 5","t":253,"v":0.007},{"s":"η = 5","t":256,"v":0.002},{"s":"η = 5","t":259,"v":0.009},{"s":"η = 5","t":262,"v":0.003},{"s":"η = 5","t":265,"v":0.007},{"s":"η = 5","t":268,"v":0.002},{"s":"η = 5","t":271,"v":0.008},{"s":"η = 5","t":274,"v":0.003},{"s":"η = 5","t":277,"v":0.006},{"s":"η = 5","t":280,"v":0.002},{"s":"η = 5","t":283,"v":0.008},{"s":"η = 5","t":286,"v":0.003},{"s":"η = 5","t":289,"v":0.006},{"s":"η = 5","t":292,"v":0.002},{"s":"η = 5","t":295,"v":0.007},{"s":"η = 5","t":298,"v":0.003},
{"s":"η = 10","t":0,"v":0.95},{"s":"η = 10","t":0.5,"v":0.8},{"s":"η = 10","t":1,"v":0.93},{"s":"η = 10","t":1.5,"v":0.7},{"s":"η = 10","t":2,"v":0.9},{"s":"η = 10","t":2.5,"v":0.68},{"s":"η = 10","t":3,"v":0.88},{"s":"η = 10","t":3.5,"v":0.72},{"s":"η = 10","t":4,"v":0.92},{"s":"η = 10","t":4.5,"v":0.66},{"s":"η = 10","t":5,"v":0.86},{"s":"η = 10","t":5.5,"v":0.7},{"s":"η = 10","t":6,"v":0.84},{"s":"η = 10","t":6.5,"v":0.75},{"s":"η = 10","t":7,"v":0.8},{"s":"η = 10","t":7.5,"v":0.5},{"s":"η = 10","t":8,"v":0.21},{"s":"η = 10","t":8.5,"v":0.12},{"s":"η = 10","t":9,"v":0.18},{"s":"η = 10","t":9.5,"v":0.06},{"s":"η = 10","t":10,"v":0.03},{"s":"η = 10","t":11,"v":0.055},{"s":"η = 10","t":12,"v":0.01},{"s":"η = 10","t":13,"v":0.045},{"s":"η = 10","t":14,"v":0.02},{"s":"η = 10","t":15,"v":0.04},{"s":"η = 10","t":16,"v":0.005},{"s":"η = 10","t":17,"v":0.02},{"s":"η = 10","t":18,"v":0.01},{"s":"η = 10","t":19,"v":0.03},{"s":"η = 10","t":20,"v":0.005},{"s":"η = 10","t":21,"v":0.015},{"s":"η = 10","t":22,"v":0.03},{"s":"η = 10","t":23,"v":0.01},{"s":"η = 10","t":24,"v":0.02},{"s":"η = 10","t":25,"v":0.005},{"s":"η = 10","t":26,"v":0.015},{"s":"η = 10","t":27,"v":0.03},{"s":"η = 10","t":28,"v":0.01},{"s":"η = 10","t":29,"v":0.04},{"s":"η = 10","t":30,"v":0.085},{"s":"η = 10","t":31,"v":0.02},{"s":"η = 10","t":32,"v":0.045},{"s":"η = 10","t":33,"v":0.01},{"s":"η = 10","t":34,"v":0.06},{"s":"η = 10","t":35,"v":0.015},{"s":"η = 10","t":36,"v":0.03},{"s":"η = 10","t":37,"v":0.005},{"s":"η = 10","t":38,"v":0.04},{"s":"η = 10","t":39,"v":0.075},{"s":"η = 10","t":40,"v":0.02},{"s":"η = 10","t":41,"v":0.045},{"s":"η = 10","t":42,"v":0.01},{"s":"η = 10","t":43,"v":0.03},{"s":"η = 10","t":44,"v":0.005},{"s":"η = 10","t":45,"v":0.02},{"s":"η = 10","t":46,"v":0.01},{"s":"η = 10","t":47,"v":0.03},{"s":"η = 10","t":48,"v":0.01},{"s":"η = 10","t":49,"v":0.025},{"s":"η = 10","t":50,"v":0.005},{"s":"η = 10","t":53,"v":0.012},{"s":"η = 10","t":56,"v":0.004},{"s":"η = 10","t":59,"v":0.01},{"s":"η = 10","t":62,"v":0.003},{"s":"η = 10","t":65,"v":0.008},{"s":"η = 10","t":68,"v":0.002},{"s":"η = 10","t":71,"v":0.009},{"s":"η = 10","t":74,"v":0.003},{"s":"η = 10","t":77,"v":0.007},{"s":"η = 10","t":80,"v":0.002},{"s":"η = 10","t":83,"v":0.006},{"s":"η = 10","t":86,"v":0.002},{"s":"η = 10","t":89,"v":0.008},{"s":"η = 10","t":92,"v":0.002},{"s":"η = 10","t":95,"v":0.005},{"s":"η = 10","t":98,"v":0.002},{"s":"η = 10","t":101,"v":0.006},{"s":"η = 10","t":104,"v":0.002},{"s":"η = 10","t":107,"v":0.007},{"s":"η = 10","t":110,"v":0.002},{"s":"η = 10","t":113,"v":0.005},{"s":"η = 10","t":116,"v":0.002},{"s":"η = 10","t":119,"v":0.006},{"s":"η = 10","t":122,"v":0.002},{"s":"η = 10","t":125,"v":0.005},{"s":"η = 10","t":128,"v":0.002},{"s":"η = 10","t":131,"v":0.007},{"s":"η = 10","t":134,"v":0.002},{"s":"η = 10","t":137,"v":0.005},{"s":"η = 10","t":140,"v":0.002},{"s":"η = 10","t":143,"v":0.006},{"s":"η = 10","t":146,"v":0.002},{"s":"η = 10","t":149,"v":0.005},{"s":"η = 10","t":152,"v":0.002},{"s":"η = 10","t":155,"v":0.006},{"s":"η = 10","t":158,"v":0.002},{"s":"η = 10","t":161,"v":0.005},{"s":"η = 10","t":164,"v":0.002},{"s":"η = 10","t":167,"v":0.007},{"s":"η = 10","t":170,"v":0.002},{"s":"η = 10","t":173,"v":0.005},{"s":"η = 10","t":176,"v":0.002},{"s":"η = 10","t":179,"v":0.006},{"s":"η = 10","t":182,"v":0.002},{"s":"η = 10","t":185,"v":0.005},{"s":"η = 10","t":188,"v":0.002},{"s":"η = 10","t":191,"v":0.006},{"s":"η = 10","t":194,"v":0.002},{"s":"η = 10","t":197,"v":0.005},{"s":"η = 10","t":200,"v":0.002},{"s":"η = 10","t":203,"v":0.006},{"s":"η = 10","t":206,"v":0.002},{"s":"η = 10","t":209,"v":0.005},{"s":"η = 10","t":212,"v":0.002},{"s":"η = 10","t":215,"v":0.007},{"s":"η = 10","t":218,"v":0.002},{"s":"η = 10","t":221,"v":0.005},{"s":"η = 10","t":224,"v":0.002},{"s":"η = 10","t":227,"v":0.006},{"s":"η = 10","t":230,"v":0.002},{"s":"η = 10","t":233,"v":0.005},{"s":"η = 10","t":236,"v":0.002},{"s":"η = 10","t":239,"v":0.006},{"s":"η = 10","t":242,"v":0.002},{"s":"η = 10","t":245,"v":0.005},{"s":"η = 10","t":248,"v":0.002},{"s":"η = 10","t":251,"v":0.006},{"s":"η = 10","t":254,"v":0.002},{"s":"η = 10","t":257,"v":0.005},{"s":"η = 10","t":260,"v":0.002},{"s":"η = 10","t":263,"v":0.008},{"s":"η = 10","t":266,"v":0.002},{"s":"η = 10","t":269,"v":0.005},{"s":"η = 10","t":272,"v":0.002},{"s":"η = 10","t":275,"v":0.006},{"s":"η = 10","t":278,"v":0.002},{"s":"η = 10","t":281,"v":0.005},{"s":"η = 10","t":284,"v":0.002},{"s":"η = 10","t":287,"v":0.006},{"s":"η = 10","t":290,"v":0.002},{"s":"η = 10","t":293,"v":0.005},{"s":"η = 10","t":296,"v":0.002},{"s":"η = 10","t":299,"v":0.006}
],
"c":[
{"s":"D = 0.005","t":0,"v":0.93},{"s":"D = 0.005","t":1,"v":0.8},{"s":"D = 0.005","t":2,"v":0.9},{"s":"D = 0.005","t":3,"v":0.78},{"s":"D = 0.005","t":4,"v":0.88},{"s":"D = 0.005","t":5,"v":0.82},{"s":"D = 0.005","t":6,"v":0.9},{"s":"D = 0.005","t":7,"v":0.8},{"s":"D = 0.005","t":8,"v":0.86},{"s":"D = 0.005","t":10,"v":0.83},{"s":"D = 0.005","t":12,"v":0.87},{"s":"D = 0.005","t":14,"v":0.82},{"s":"D = 0.005","t":16,"v":0.86},{"s":"D = 0.005","t":18,"v":0.83},{"s":"D = 0.005","t":20,"v":0.87},{"s":"D = 0.005","t":22,"v":0.82},{"s":"D = 0.005","t":24,"v":0.86},{"s":"D = 0.005","t":26,"v":0.83},{"s":"D = 0.005","t":28,"v":0.85},{"s":"D = 0.005","t":30,"v":0.82},{"s":"D = 0.005","t":32,"v":0.85},{"s":"D = 0.005","t":34,"v":0.83},{"s":"D = 0.005","t":36,"v":0.84},{"s":"D = 0.005","t":38,"v":0.81},{"s":"D = 0.005","t":40,"v":0.85},{"s":"D = 0.005","t":42,"v":0.82},{"s":"D = 0.005","t":44,"v":0.78},{"s":"D = 0.005","t":46,"v":0.84},{"s":"D = 0.005","t":48,"v":0.82},{"s":"D = 0.005","t":50,"v":0.85},{"s":"D = 0.005","t":52,"v":0.81},{"s":"D = 0.005","t":54,"v":0.84},{"s":"D = 0.005","t":56,"v":0.8},{"s":"D = 0.005","t":58,"v":0.83},{"s":"D = 0.005","t":60,"v":0.78},{"s":"D = 0.005","t":62,"v":0.83},{"s":"D = 0.005","t":64,"v":0.79},{"s":"D = 0.005","t":66,"v":0.82},{"s":"D = 0.005","t":68,"v":0.75},{"s":"D = 0.005","t":70,"v":0.81},{"s":"D = 0.005","t":72,"v":0.8},{"s":"D = 0.005","t":74,"v":0.82},{"s":"D = 0.005","t":76,"v":0.78},{"s":"D = 0.005","t":78,"v":0.81},{"s":"D = 0.005","t":80,"v":0.77},{"s":"D = 0.005","t":82,"v":0.82},{"s":"D = 0.005","t":84,"v":0.76},{"s":"D = 0.005","t":86,"v":0.81},{"s":"D = 0.005","t":88,"v":0.74},{"s":"D = 0.005","t":90,"v":0.8},{"s":"D = 0.005","t":92,"v":0.75},{"s":"D = 0.005","t":94,"v":0.79},{"s":"D = 0.005","t":96,"v":0.74},{"s":"D = 0.005","t":98,"v":0.78},{"s":"D = 0.005","t":100,"v":0.76},{"s":"D = 0.005","t":102,"v":0.79},{"s":"D = 0.005","t":104,"v":0.75},{"s":"D = 0.005","t":106,"v":0.78},{"s":"D = 0.005","t":108,"v":0.74},{"s":"D = 0.005","t":110,"v":0.77},{"s":"D = 0.005","t":112,"v":0.75},{"s":"D = 0.005","t":114,"v":0.77},{"s":"D = 0.005","t":116,"v":0.74},{"s":"D = 0.005","t":118,"v":0.76},{"s":"D = 0.005","t":120,"v":0.73},{"s":"D = 0.005","t":122,"v":0.76},{"s":"D = 0.005","t":124,"v":0.73},{"s":"D = 0.005","t":126,"v":0.77},{"s":"D = 0.005","t":128,"v":0.72},{"s":"D = 0.005","t":130,"v":0.76},{"s":"D = 0.005","t":132,"v":0.71},{"s":"D = 0.005","t":134,"v":0.75},{"s":"D = 0.005","t":136,"v":0.72},{"s":"D = 0.005","t":138,"v":0.78},{"s":"D = 0.005","t":140,"v":0.71},{"s":"D = 0.005","t":142,"v":0.75},{"s":"D = 0.005","t":144,"v":0.7},{"s":"D = 0.005","t":146,"v":0.76},{"s":"D = 0.005","t":148,"v":0.7},{"s":"D = 0.005","t":150,"v":0.74},{"s":"D = 0.005","t":152,"v":0.69},{"s":"D = 0.005","t":154,"v":0.74},{"s":"D = 0.005","t":156,"v":0.7},{"s":"D = 0.005","t":158,"v":0.73},{"s":"D = 0.005","t":160,"v":0.69},{"s":"D = 0.005","t":162,"v":0.74},{"s":"D = 0.005","t":164,"v":0.7},{"s":"D = 0.005","t":166,"v":0.72},{"s":"D = 0.005","t":168,"v":0.69},{"s":"D = 0.005","t":170,"v":0.73},{"s":"D = 0.005","t":172,"v":0.68},{"s":"D = 0.005","t":174,"v":0.72},{"s":"D = 0.005","t":176,"v":0.69},{"s":"D = 0.005","t":178,"v":0.73},{"s":"D = 0.005","t":180,"v":0.67},{"s":"D = 0.005","t":182,"v":0.71},{"s":"D = 0.005","t":184,"v":0.67},{"s":"D = 0.005","t":186,"v":0.72},{"s":"D = 0.005","t":188,"v":0.66},{"s":"D = 0.005","t":190,"v":0.71},{"s":"D = 0.005","t":192,"v":0.66},{"s":"D = 0.005","t":194,"v":0.7},{"s":"D = 0.005","t":196,"v":0.65},{"s":"D = 0.005","t":198,"v":0.7},{"s":"D = 0.005","t":200,"v":0.64},{"s":"D = 0.005","t":202,"v":0.69},{"s":"D = 0.005","t":204,"v":0.64},{"s":"D = 0.005","t":206,"v":0.68},{"s":"D = 0.005","t":208,"v":0.62},{"s":"D = 0.005","t":210,"v":0.67},{"s":"D = 0.005","t":212,"v":0.61},{"s":"D = 0.005","t":214,"v":0.66},{"s":"D = 0.005","t":216,"v":0.6},{"s":"D = 0.005","t":218,"v":0.64},{"s":"D = 0.005","t":220,"v":0.58},{"s":"D = 0.005","t":222,"v":0.63},{"s":"D = 0.005","t":224,"v":0.57},{"s":"D = 0.005","t":226,"v":0.62},{"s":"D = 0.005","t":228,"v":0.56},{"s":"D = 0.005","t":230,"v":0.61},{"s":"D = 0.005","t":232,"v":0.55},{"s":"D = 0.005","t":234,"v":0.6},{"s":"D = 0.005","t":236,"v":0.54},{"s":"D = 0.005","t":238,"v":0.6},{"s":"D = 0.005","t":240,"v":0.53},{"s":"D = 0.005","t":242,"v":0.58},{"s":"D = 0.005","t":244,"v":0.52},{"s":"D = 0.005","t":246,"v":0.58},{"s":"D = 0.005","t":248,"v":0.5},{"s":"D = 0.005","t":250,"v":0.56},{"s":"D = 0.005","t":252,"v":0.49},{"s":"D = 0.005","t":254,"v":0.57},{"s":"D = 0.005","t":256,"v":0.5},{"s":"D = 0.005","t":258,"v":0.55},{"s":"D = 0.005","t":260,"v":0.48},{"s":"D = 0.005","t":262,"v":0.55},{"s":"D = 0.005","t":264,"v":0.49},{"s":"D = 0.005","t":266,"v":0.54},{"s":"D = 0.005","t":268,"v":0.47},{"s":"D = 0.005","t":270,"v":0.55},{"s":"D = 0.005","t":272,"v":0.48},{"s":"D = 0.005","t":274,"v":0.54},{"s":"D = 0.005","t":276,"v":0.47},{"s":"D = 0.005","t":278,"v":0.53},{"s":"D = 0.005","t":280,"v":0.49},{"s":"D = 0.005","t":282,"v":0.54},{"s":"D = 0.005","t":284,"v":0.47},{"s":"D = 0.005","t":286,"v":0.53},{"s":"D = 0.005","t":288,"v":0.46},{"s":"D = 0.005","t":290,"v":0.52},{"s":"D = 0.005","t":292,"v":0.43},{"s":"D = 0.005","t":293,"v":0.58},{"s":"D = 0.005","t":295,"v":0.42},{"s":"D = 0.005","t":296,"v":0.35},{"s":"D = 0.005","t":297,"v":0.38},{"s":"D = 0.005","t":298,"v":0.5},{"s":"D = 0.005","t":299,"v":0.52},{"s":"D = 0.005","t":300,"v":0.45},
{"s":"D = 0.025","t":0,"v":0.92},{"s":"D = 0.025","t":1,"v":0.82},{"s":"D = 0.025","t":2,"v":0.9},{"s":"D = 0.025","t":3,"v":0.8},{"s":"D = 0.025","t":4,"v":0.87},{"s":"D = 0.025","t":5,"v":0.78},{"s":"D = 0.025","t":6,"v":0.86},{"s":"D = 0.025","t":7,"v":0.76},{"s":"D = 0.025","t":8,"v":0.85},{"s":"D = 0.025","t":9,"v":0.74},{"s":"D = 0.025","t":10,"v":0.84},{"s":"D = 0.025","t":11,"v":0.72},{"s":"D = 0.025","t":12,"v":0.83},{"s":"D = 0.025","t":13,"v":0.7},{"s":"D = 0.025","t":14,"v":0.82},{"s":"D = 0.025","t":15,"v":0.75},{"s":"D = 0.025","t":16,"v":0.8},{"s":"D = 0.025","t":17,"v":0.7},{"s":"D = 0.025","t":18,"v":0.82},{"s":"D = 0.025","t":19,"v":0.68},{"s":"D = 0.025","t":20,"v":0.8},{"s":"D = 0.025","t":21,"v":0.72},{"s":"D = 0.025","t":22,"v":0.78},{"s":"D = 0.025","t":23,"v":0.66},{"s":"D = 0.025","t":24,"v":0.79},{"s":"D = 0.025","t":25,"v":0.7},{"s":"D = 0.025","t":26,"v":0.77},{"s":"D = 0.025","t":27,"v":0.64},{"s":"D = 0.025","t":28,"v":0.76},{"s":"D = 0.025","t":29,"v":0.68},{"s":"D = 0.025","t":30,"v":0.75},{"s":"D = 0.025","t":31,"v":0.62},{"s":"D = 0.025","t":32,"v":0.74},{"s":"D = 0.025","t":33,"v":0.66},{"s":"D = 0.025","t":34,"v":0.76},{"s":"D = 0.025","t":35,"v":0.6},{"s":"D = 0.025","t":36,"v":0.73},{"s":"D = 0.025","t":37,"v":0.62},{"s":"D = 0.025","t":38,"v":0.75},{"s":"D = 0.025","t":39,"v":0.58},{"s":"D = 0.025","t":40,"v":0.72},{"s":"D = 0.025","t":41,"v":0.55},{"s":"D = 0.025","t":42,"v":0.73},{"s":"D = 0.025","t":43,"v":0.58},{"s":"D = 0.025","t":44,"v":0.72},{"s":"D = 0.025","t":45,"v":0.53},{"s":"D = 0.025","t":46,"v":0.7},{"s":"D = 0.025","t":47,"v":0.56},{"s":"D = 0.025","t":48,"v":0.72},{"s":"D = 0.025","t":49,"v":0.49},{"s":"D = 0.025","t":50,"v":0.66},{"s":"D = 0.025","t":51,"v":0.55},{"s":"D = 0.025","t":52,"v":0.69},{"s":"D = 0.025","t":53,"v":0.52},{"s":"D = 0.025","t":54,"v":0.65},{"s":"D = 0.025","t":55,"v":0.5},{"s":"D = 0.025","t":56,"v":0.6},{"s":"D = 0.025","t":57,"v":0.48},{"s":"D = 0.025","t":58,"v":0.59},{"s":"D = 0.025","t":59,"v":0.44},{"s":"D = 0.025","t":60,"v":0.52},{"s":"D = 0.025","t":61,"v":0.41},{"s":"D = 0.025","t":62,"v":0.5},{"s":"D = 0.025","t":63,"v":0.55},{"s":"D = 0.025","t":64,"v":0.1},{"s":"D = 0.025","t":65,"v":0.06},{"s":"D = 0.025","t":66,"v":0.12},{"s":"D = 0.025","t":67,"v":0.03},{"s":"D = 0.025","t":68,"v":0.14},{"s":"D = 0.025","t":69,"v":0.05},{"s":"D = 0.025","t":70,"v":0.1},{"s":"D = 0.025","t":71,"v":0.04},{"s":"D = 0.025","t":72,"v":0.08},{"s":"D = 0.025","t":73,"v":0.05},{"s":"D = 0.025","t":74,"v":0.1},{"s":"D = 0.025","t":75,"v":0.18},{"s":"D = 0.025","t":76,"v":0.25},{"s":"D = 0.025","t":77,"v":0.22},{"s":"D = 0.025","t":78,"v":0.35},{"s":"D = 0.025","t":79,"v":0.33},{"s":"D = 0.025","t":80,"v":0.42},{"s":"D = 0.025","t":81,"v":0.51},{"s":"D = 0.025","t":82,"v":0.45},{"s":"D = 0.025","t":83,"v":0.4},{"s":"D = 0.025","t":84,"v":0.38},{"s":"D = 0.025","t":85,"v":0.3},{"s":"D = 0.025","t":86,"v":0.25},{"s":"D = 0.025","t":87,"v":0.2},{"s":"D = 0.025","t":88,"v":0.15},{"s":"D = 0.025","t":89,"v":0.1},{"s":"D = 0.025","t":90,"v":0.06},{"s":"D = 0.025","t":91,"v":0.08},{"s":"D = 0.025","t":92,"v":0.04},{"s":"D = 0.025","t":93,"v":0.05},{"s":"D = 0.025","t":94,"v":0.02},{"s":"D = 0.025","t":95,"v":0.04},{"s":"D = 0.025","t":96,"v":0.01},{"s":"D = 0.025","t":98,"v":0.03},{"s":"D = 0.025","t":100,"v":0.01},{"s":"D = 0.025","t":103,"v":0.015},{"s":"D = 0.025","t":106,"v":0.004},{"s":"D = 0.025","t":109,"v":0.012},{"s":"D = 0.025","t":112,"v":0.003},{"s":"D = 0.025","t":115,"v":0.01},{"s":"D = 0.025","t":118,"v":0.004},{"s":"D = 0.025","t":121,"v":0.013},{"s":"D = 0.025","t":124,"v":0.003},{"s":"D = 0.025","t":127,"v":0.009},{"s":"D = 0.025","t":130,"v":0.004},{"s":"D = 0.025","t":133,"v":0.012},{"s":"D = 0.025","t":136,"v":0.003},{"s":"D = 0.025","t":139,"v":0.01},{"s":"D = 0.025","t":142,"v":0.004},{"s":"D = 0.025","t":145,"v":0.014},{"s":"D = 0.025","t":148,"v":0.005},{"s":"D = 0.025","t":151,"v":0.011},{"s":"D = 0.025","t":154,"v":0.003},{"s":"D = 0.025","t":157,"v":0.016},{"s":"D = 0.025","t":160,"v":0.004},{"s":"D = 0.025","t":163,"v":0.012},{"s":"D = 0.025","t":166,"v":0.005},{"s":"D = 0.025","t":169,"v":0.02},{"s":"D = 0.025","t":172,"v":0.004},{"s":"D = 0.025","t":175,"v":0.013},{"s":"D = 0.025","t":178,"v":0.005},{"s":"D = 0.025","t":181,"v":0.018},{"s":"D = 0.025","t":184,"v":0.004},{"s":"D = 0.025","t":187,"v":0.03},{"s":"D = 0.025","t":190,"v":0.006},{"s":"D = 0.025","t":193,"v":0.015},{"s":"D = 0.025","t":196,"v":0.004},{"s":"D = 0.025","t":199,"v":0.02},{"s":"D = 0.025","t":202,"v":0.005},{"s":"D = 0.025","t":205,"v":0.013},{"s":"D = 0.025","t":208,"v":0.004},{"s":"D = 0.025","t":211,"v":0.012},{"s":"D = 0.025","t":214,"v":0.003},{"s":"D = 0.025","t":217,"v":0.015},{"s":"D = 0.025","t":220,"v":0.004},{"s":"D = 0.025","t":223,"v":0.01},{"s":"D = 0.025","t":226,"v":0.003},{"s":"D = 0.025","t":229,"v":0.02},{"s":"D = 0.025","t":232,"v":0.004},{"s":"D = 0.025","t":235,"v":0.009},{"s":"D = 0.025","t":238,"v":0.003},{"s":"D = 0.025","t":241,"v":0.012},{"s":"D = 0.025","t":244,"v":0.004},{"s":"D = 0.025","t":247,"v":0.008},{"s":"D = 0.025","t":250,"v":0.003},{"s":"D = 0.025","t":253,"v":0.01},{"s":"D = 0.025","t":256,"v":0.004},{"s":"D = 0.025","t":259,"v":0.008},{"s":"D = 0.025","t":262,"v":0.003},{"s":"D = 0.025","t":265,"v":0.01},{"s":"D = 0.025","t":268,"v":0.004},{"s":"D = 0.025","t":271,"v":0.007},{"s":"D = 0.025","t":274,"v":0.003},{"s":"D = 0.025","t":277,"v":0.009},{"s":"D = 0.025","t":280,"v":0.004},{"s":"D = 0.025","t":283,"v":0.007},{"s":"D = 0.025","t":286,"v":0.003},{"s":"D = 0.025","t":289,"v":0.008},{"s":"D = 0.025","t":292,"v":0.003},{"s":"D = 0.025","t":295,"v":0.006},{"s":"D = 0.025","t":298,"v":0.003},
{"s":"D = 0.05","t":0,"v":0.87},{"s":"D = 0.05","t":1,"v":0.8},{"s":"D = 0.05","t":2,"v":0.85},{"s":"D = 0.05","t":3,"v":0.75},{"s":"D = 0.05","t":4,"v":0.82},{"s":"D = 0.05","t":5,"v":0.72},{"s":"D = 0.05","t":6,"v":0.8},{"s":"D = 0.05","t":7,"v":0.68},{"s":"D = 0.05","t":8,"v":0.78},{"s":"D = 0.05","t":9,"v":0.7},{"s":"D = 0.05","t":10,"v":0.8},{"s":"D = 0.05","t":11,"v":0.65},{"s":"D = 0.05","t":12,"v":0.76},{"s":"D = 0.05","t":13,"v":0.62},{"s":"D = 0.05","t":14,"v":0.75},{"s":"D = 0.05","t":15,"v":0.56},{"s":"D = 0.05","t":16,"v":0.72},{"s":"D = 0.05","t":17,"v":0.66},{"s":"D = 0.05","t":18,"v":0.77},{"s":"D = 0.05","t":19,"v":0.6},{"s":"D = 0.05","t":20,"v":0.74},{"s":"D = 0.05","t":21,"v":0.64},{"s":"D = 0.05","t":22,"v":0.7},{"s":"D = 0.05","t":23,"v":0.57},{"s":"D = 0.05","t":24,"v":0.72},{"s":"D = 0.05","t":25,"v":0.62},{"s":"D = 0.05","t":26,"v":0.7},{"s":"D = 0.05","t":27,"v":0.58},{"s":"D = 0.05","t":28,"v":0.68},{"s":"D = 0.05","t":29,"v":0.53},{"s":"D = 0.05","t":30,"v":0.66},{"s":"D = 0.05","t":31,"v":0.47},{"s":"D = 0.05","t":32,"v":0.65},{"s":"D = 0.05","t":33,"v":0.72},{"s":"D = 0.05","t":34,"v":0.6},{"s":"D = 0.05","t":35,"v":0.78},{"s":"D = 0.05","t":36,"v":0.55},{"s":"D = 0.05","t":37,"v":0.68},{"s":"D = 0.05","t":38,"v":0.44},{"s":"D = 0.05","t":39,"v":0.6},{"s":"D = 0.05","t":40,"v":0.48},{"s":"D = 0.05","t":41,"v":0.4},{"s":"D = 0.05","t":42,"v":0.23},{"s":"D = 0.05","t":43,"v":0.2},{"s":"D = 0.05","t":44,"v":0.14},{"s":"D = 0.05","t":45,"v":0.15},{"s":"D = 0.05","t":46,"v":0.11},{"s":"D = 0.05","t":47,"v":0.12},{"s":"D = 0.05","t":48,"v":0.06},{"s":"D = 0.05","t":49,"v":0.08},{"s":"D = 0.05","t":50,"v":0},{"s":"D = 0.05","t":51,"v":0.05},{"s":"D = 0.05","t":52,"v":0.03},{"s":"D = 0.05","t":53,"v":0.04},{"s":"D = 0.05","t":54,"v":0.02},{"s":"D = 0.05","t":55,"v":0.03},{"s":"D = 0.05","t":56,"v":0.04},{"s":"D = 0.05","t":57,"v":0.02},{"s":"D = 0.05","t":58,"v":0.045},{"s":"D = 0.05","t":59,"v":0.02},{"s":"D = 0.05","t":60,"v":0.03},{"s":"D = 0.05","t":62,"v":0.01},{"s":"D = 0.05","t":64,"v":0.02},{"s":"D = 0.05","t":66,"v":0.005},{"s":"D = 0.05","t":68,"v":0.02},{"s":"D = 0.05","t":70,"v":0.01},{"s":"D = 0.05","t":72,"v":0.035},{"s":"D = 0.05","t":74,"v":0.015},{"s":"D = 0.05","t":76,"v":0.03},{"s":"D = 0.05","t":78,"v":0.01},{"s":"D = 0.05","t":80,"v":0.02},{"s":"D = 0.05","t":82,"v":0.005},{"s":"D = 0.05","t":84,"v":0.025},{"s":"D = 0.05","t":86,"v":0.01},{"s":"D = 0.05","t":88,"v":0.015},{"s":"D = 0.05","t":90,"v":0.005},{"s":"D = 0.05","t":93,"v":0.012},{"s":"D = 0.05","t":96,"v":0.004},{"s":"D = 0.05","t":99,"v":0.01},{"s":"D = 0.05","t":102,"v":0.015},{"s":"D = 0.05","t":105,"v":0.005},{"s":"D = 0.05","t":108,"v":0.01},{"s":"D = 0.05","t":111,"v":0.003},{"s":"D = 0.05","t":114,"v":0.012},{"s":"D = 0.05","t":117,"v":0.004},{"s":"D = 0.05","t":120,"v":0.009},{"s":"D = 0.05","t":123,"v":0.003},{"s":"D = 0.05","t":126,"v":0.011},{"s":"D = 0.05","t":129,"v":0.004},{"s":"D = 0.05","t":132,"v":0.015},{"s":"D = 0.05","t":135,"v":0.005},{"s":"D = 0.05","t":138,"v":0.01},{"s":"D = 0.05","t":141,"v":0.004},{"s":"D = 0.05","t":144,"v":0.018},{"s":"D = 0.05","t":147,"v":0.005},{"s":"D = 0.05","t":150,"v":0.012},{"s":"D = 0.05","t":153,"v":0.02},{"s":"D = 0.05","t":156,"v":0.006},{"s":"D = 0.05","t":159,"v":0.014},{"s":"D = 0.05","t":162,"v":0.005},{"s":"D = 0.05","t":165,"v":0.02},{"s":"D = 0.05","t":168,"v":0.006},{"s":"D = 0.05","t":171,"v":0.015},{"s":"D = 0.05","t":174,"v":0.005},{"s":"D = 0.05","t":177,"v":0.012},{"s":"D = 0.05","t":180,"v":0.004},{"s":"D = 0.05","t":183,"v":0.018},{"s":"D = 0.05","t":186,"v":0.035},{"s":"D = 0.05","t":189,"v":0.008},{"s":"D = 0.05","t":192,"v":0.016},{"s":"D = 0.05","t":195,"v":0.005},{"s":"D = 0.05","t":198,"v":0.025},{"s":"D = 0.05","t":201,"v":0.007},{"s":"D = 0.05","t":204,"v":0.015},{"s":"D = 0.05","t":207,"v":0.005},{"s":"D = 0.05","t":210,"v":0.02},{"s":"D = 0.05","t":213,"v":0.006},{"s":"D = 0.05","t":216,"v":0.014},{"s":"D = 0.05","t":219,"v":0.004},{"s":"D = 0.05","t":222,"v":0.012},{"s":"D = 0.05","t":225,"v":0.004},{"s":"D = 0.05","t":228,"v":0.03},{"s":"D = 0.05","t":231,"v":0.005},{"s":"D = 0.05","t":234,"v":0.01},{"s":"D = 0.05","t":237,"v":0.003},{"s":"D = 0.05","t":240,"v":0.008},{"s":"D = 0.05","t":243,"v":0.003},{"s":"D = 0.05","t":246,"v":0.01},{"s":"D = 0.05","t":249,"v":0.004},{"s":"D = 0.05","t":252,"v":0.007},{"s":"D = 0.05","t":255,"v":0.003},{"s":"D = 0.05","t":258,"v":0.009},{"s":"D = 0.05","t":261,"v":0.004},{"s":"D = 0.05","t":264,"v":0.007},{"s":"D = 0.05","t":267,"v":0.003},{"s":"D = 0.05","t":270,"v":0.009},{"s":"D = 0.05","t":273,"v":0.004},{"s":"D = 0.05","t":276,"v":0.006},{"s":"D = 0.05","t":279,"v":0.003},{"s":"D = 0.05","t":282,"v":0.008},{"s":"D = 0.05","t":285,"v":0.004},{"s":"D = 0.05","t":288,"v":0.006},{"s":"D = 0.05","t":291,"v":0.003},{"s":"D = 0.05","t":294,"v":0.008},{"s":"D = 0.05","t":297,"v":0.004},{"s":"D = 0.05","t":300,"v":0.006}
]
},
"vconcat":[
{
"width":527,"height":413,
"layer":[
{"data":{"name":"a"},
"mark":{"type":"line","color":"#363636","strokeWidth":1.7,"clip":true},
"encoding":{
"x":{"field":"t","type":"quantitative","scale":{"domain":[0,300],"nice":false},"axis":{"orient":"bottom","values":[0,50,100,150,200,250,300],"format":"d","domain":false,"grid":false,"tickSize":-7,"tickColor":"#333333","tickWidth":1.3,"labelFont":"Liberation Sans","labelFontSize":17,"labelColor":"#333333","labelPadding":19,"labelFlush":false,"title":"t","titleFont":"DejaVu Serif","titleFontStyle":"italic","titleFontWeight":"normal","titleFontSize":15,"titleColor":"#333333","titlePadding":4}},
"y":{"field":"v","type":"quantitative","scale":{"domain":[0,1],"nice":false},"axis":{"orient":"left","values":[0,0.1,0.2,0.3,0.4,0.5,0.6,0.7,0.8,0.9,1],"format":".1~f","domain":false,"grid":false,"tickSize":-7,"tickColor":"#333333","tickWidth":1.3,"labelFont":"Liberation Sans","labelFontSize":17,"labelColor":"#333333","labelPadding":19,"labelFlush":false,"title":"|ψₙ₀|²","titleFont":"DejaVu Sans","titleFontSize":18,"titleFontWeight":"normal","titleColor":"#333333","titleAngle":0,"titleAlign":"right","titleBaseline":"middle","titleX":-46,"titleY":206}},
"strokeDash":{"field":"s","type":"nominal","scale":{"domain":["γ = 5","γ = 10","γ = 15","γ = 20"],"range":[[1,0],[3,2],[1.5,2],[2,0.8]]},"legend":{"title":null,"orient":"none","legendX":489,"legendY":21,"direction":"vertical","symbolType":"M-3.4,0H3.4","symbolSize":100,"symbolStrokeWidth":1.2,"symbolStrokeColor":"#333333","labelAlign":"right","labelOffset":-37,"labelFont":"Open Sans","labelFontSize":15,"labelColor":"#333333","rowPadding":3.5,"padding":0,"labelLimit":200}}
}},
{"data":{"values":[{}]},
"mark":{"type":"text","text":"a","font":"DejaVu Serif","fontStyle":"italic","fontSize":34,"color":"#333333","align":"center","baseline":"middle"},
"encoding":{
"x":{"datum":176,"type":"quantitative","scale":{"domain":[0,300],"nice":false},"axis":{"orient":"top","values":[0,50,100,150,200,250,300],"labels":false,"domain":false,"grid":false,"tickSize":-7,"tickColor":"#333333","tickWidth":1.3,"title":null}},
"y":{"datum":0.9,"type":"quantitative","scale":{"domain":[0,1],"nice":false},"axis":{"orient":"right","values":[0,0.1,0.2,0.3,0.4,0.5,0.6,0.7,0.8,0.9,1],"labels":false,"domain":false,"grid":false,"tickSize":-7,"tickColor":"#333333","tickWidth":1.3,"title":null}}
}}
],
"resolve":{"axis":{"x":"independent","y":"independent"}}
},
{
"width":527,"height":413,
"layer":[
{"data":{"name":"b"},
"mark":{"type":"line","color":"#363636","strokeWidth":1.7,"clip":true},
"encoding":{
"x":{"field":"t","type":"quantitative","scale":{"domain":[0,300],"nice":false},"axis":{"orient":"bottom","values":[0,50,100,150,200,250,300],"format":"d","domain":false,"grid":false,"tickSize":-7,"tickColor":"#333333","tickWidth":1.3,"labelFont":"Liberation Sans","labelFontSize":17,"labelColor":"#333333","labelPadding":19,"labelFlush":false,"title":"t","titleFont":"DejaVu Serif","titleFontStyle":"italic","titleFontWeight":"normal","titleFontSize":15,"titleColor":"#333333","titlePadding":4}},
"y":{"field":"v","type":"quantitative","scale":{"domain":[0,1],"nice":false},"axis":{"orient":"left","values":[0,0.1,0.2,0.3,0.4,0.5,0.6,0.7,0.8,0.9,1],"format":".1~f","domain":false,"grid":false,"tickSize":-7,"tickColor":"#333333","tickWidth":1.3,"labelFont":"Liberation Sans","labelFontSize":17,"labelColor":"#333333","labelPadding":19,"labelFlush":false,"title":"|ψₙ₀|²","titleFont":"DejaVu Sans","titleFontSize":18,"titleFontWeight":"normal","titleColor":"#333333","titleAngle":0,"titleAlign":"right","titleBaseline":"middle","titleX":-46,"titleY":206}},
"strokeDash":{"field":"s","type":"nominal","scale":{"domain":["η = 0","η = 1","η = 5","η = 10"],"range":[[1,0],[3,2],[1.5,2],[2,0.8]]},"legend":{"title":null,"orient":"none","legendX":489,"legendY":21,"direction":"vertical","symbolType":"M-3.4,0H3.4","symbolSize":100,"symbolStrokeWidth":1.2,"symbolStrokeColor":"#333333","labelAlign":"right","labelOffset":-37,"labelFont":"Open Sans","labelFontSize":15,"labelColor":"#333333","rowPadding":3.5,"padding":0,"labelLimit":200}}
}},
{"data":{"values":[{}]},
"mark":{"type":"text","text":"b","font":"DejaVu Serif","fontStyle":"italic","fontSize":34,"color":"#333333","align":"center","baseline":"middle"},
"encoding":{
"x":{"datum":177,"type":"quantitative","scale":{"domain":[0,300],"nice":false},"axis":{"orient":"top","values":[0,50,100,150,200,250,300],"labels":false,"domain":false,"grid":false,"tickSize":-7,"tickColor":"#333333","tickWidth":1.3,"title":null}},
"y":{"datum":0.9,"type":"quantitative","scale":{"domain":[0,1],"nice":false},"axis":{"orient":"right","values":[0,0.1,0.2,0.3,0.4,0.5,0.6,0.7,0.8,0.9,1],"labels":false,"domain":false,"grid":false,"tickSize":-7,"tickColor":"#333333","tickWidth":1.3,"title":null}}
}}
],
"resolve":{"axis":{"x":"independent","y":"independent"}}
},
{
"width":527,"height":413,
"layer":[
{"data":{"name":"c"},
"mark":{"type":"line","color":"#363636","strokeWidth":1.7,"clip":true},
"encoding":{
"x":{"field":"t","type":"quantitative","scale":{"domain":[0,300],"nice":false},"axis":{"orient":"bottom","values":[0,50,100,150,200,250,300],"format":"d","domain":false,"grid":false,"tickSize":-7,"tickColor":"#333333","tickWidth":1.3,"labelFont":"Liberation Sans","labelFontSize":17,"labelColor":"#333333","labelPadding":19,"labelFlush":false,"title":"t","titleFont":"DejaVu Serif","titleFontStyle":"italic","titleFontWeight":"normal","titleFontSize":15,"titleColor":"#333333","titlePadding":4}},
"y":{"field":"v","type":"quantitative","scale":{"domain":[0,1],"nice":false},"axis":{"orient":"left","values":[0,0.1,0.2,0.3,0.4,0.5,0.6,0.7,0.8,0.9,1],"format":".1~f","domain":false,"grid":false,"tickSize":-7,"tickColor":"#333333","tickWidth":1.3,"labelFont":"Liberation Sans","labelFontSize":17,"labelColor":"#333333","labelPadding":19,"labelFlush":false,"title":"|ψₙ₀|²","titleFont":"DejaVu Sans","titleFontSize":18,"titleFontWeight":"normal","titleColor":"#333333","titleAngle":0,"titleAlign":"right","titleBaseline":"middle","titleX":-46,"titleY":206}},
"strokeDash":{"field":"s","type":"nominal","scale":{"domain":["D = 0.005","D = 0.025","D = 0.05"],"range":[[1,0],[3,2],[1.5,2]]},"legend":{"title":null,"orient":"none","legendX":489,"legendY":21,"direction":"vertical","symbolType":"M-3.4,0H3.4","symbolSize":100,"symbolStrokeWidth":1.2,"symbolStrokeColor":"#333333","labelAlign":"right","labelOffset":-37,"labelFont":"Open Sans","labelFontSize":15,"labelColor":"#333333","rowPadding":3.5,"padding":0,"labelLimit":200}}
}},
{"data":{"values":[{}]},
"mark":{"type":"text","text":"C","font":"DejaVu Sans","fontStyle":"italic","fontSize":27,"color":"#333333","align":"center","baseline":"middle"},
"encoding":{
"x":{"datum":172,"type":"quantitative","scale":{"domain":[0,300],"nice":false},"axis":{"orient":"top","values":[0,50,100,150,200,250,300],"labels":false,"domain":false,"grid":false,"tickSize":-7,"tickColor":"#333333","tickWidth":1.3,"title":null}},
"y":{"datum":0.895,"type":"quantitative","scale":{"domain":[0,1],"nice":false},"axis":{"orient":"right","values":[0,0.1,0.2,0.3,0.4,0.5,0.6,0.7,0.8,0.9,1],"labels":false,"domain":false,"grid":false,"tickSize":-7,"tickColor":"#333333","tickWidth":1.3,"title":null}}
}}
],
"resolve":{"axis":{"x":"independent","y":"independent"}}
}
]
}
